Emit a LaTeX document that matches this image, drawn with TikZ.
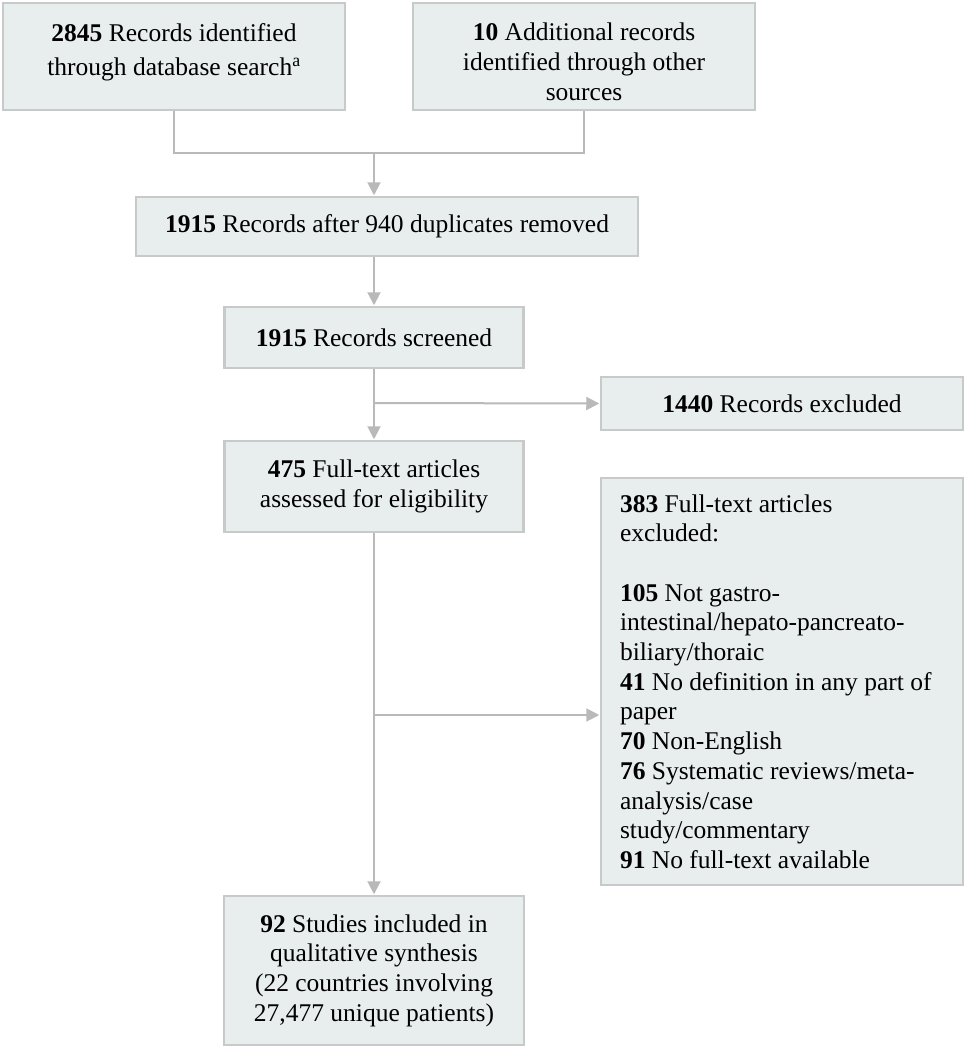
\documentclass[tikz,border=0pt]{standalone}
\usepackage{fontspec}
\setmainfont{Liberation Serif}
\usetikzlibrary{arrows.meta}
\definecolor{boxfill}{RGB}{232,237,237}
\definecolor{boxline}{RGB}{200,202,202}
\definecolor{conn}{RGB}{185,185,185}
\tikzset{
  box/.style={draw=boxline, fill=boxfill, line width=2.5pt, inner sep=0pt, align=center,
    font=\fontsize{25.5}{29.7}\selectfont},
  conline/.style={draw=conn, line width=2pt},
  arr/.style={conline, -{Triangle[width=13pt,length=13pt]}, shorten >=0.5pt},
}
\begin{document}
\begin{tikzpicture}[x=1pt,y=-1pt]
\useasboundingbox[fill=white] (0,0) rectangle (965,1050);
\node[box, minimum width=342pt, minimum height=107pt] (A) at (174,56.5)
  {\textbf{2845} Records identified\\[5pt]through database search\textsuperscript{a}\rule[-14pt]{0pt}{14pt}};
\node[box, minimum width=342pt, minimum height=107pt] (B) at (584,56.5)
  {\rule{0pt}{28pt}\textbf{10} Additional records\\identified through other\\sources};
\node[box, minimum width=502pt, minimum height=59pt] (C) at (387,226.5)
  {\textbf{1915} Records after 940 duplicates removed};
\node[box, minimum width=299pt, minimum height=61pt] (D) at (374,337.5)
  {\textbf{1915} Records screened};
\node[box, minimum width=362pt, minimum height=53pt] (F) at (782,403.5)
  {\textbf{1440} Records excluded};
\node[box, minimum width=299pt, minimum height=91pt] (E) at (374,486.5)
  {\textbf{475} Full-text articles\\assessed for eligibility};
\node[box, minimum width=362pt, minimum height=407pt, align=left, inner xsep=0pt] (G) at (782,681.5)
  {\hspace*{-6pt}\parbox{318pt}{\raggedright
   \textbf{383} Full-text articles\\excluded:\\[29.7pt]
   \textbf{105} Not gastro-\\intestinal/hepato-pancreato-\\biliary/thoraic\\
   \textbf{41} No definition in any part of\\paper\\
   \textbf{70} Non-English\\
   \textbf{76} Systematic reviews/meta-\\analysis/case\\study/commentary\\
   \textbf{91} No full-text available}};
\node[box, minimum width=300pt, minimum height=149pt] (H) at (374,970.5)
  {\textbf{92} Studies included in\\qualitative synthesis\\(22 countries involving\\27,477 unique patients)};
\coordinate (j) at (374,153);
\coordinate (b1) at (374,403);
\coordinate (b2) at (374,715);
\draw[conline] (A.south) |- (j) -| (B.south);
\draw[arr] (j) -- (j |- C.north);
\draw[arr] (C.south -| D.north) -- (D.north);
\draw[arr] (D.south) -- (E.north);
\draw[arr] (b1) -- (F.west);
\draw[arr] (E.south) -- (H.north);
\draw[arr] (b2) -- (b2 -| G.west);
\end{tikzpicture}
\end{document}
